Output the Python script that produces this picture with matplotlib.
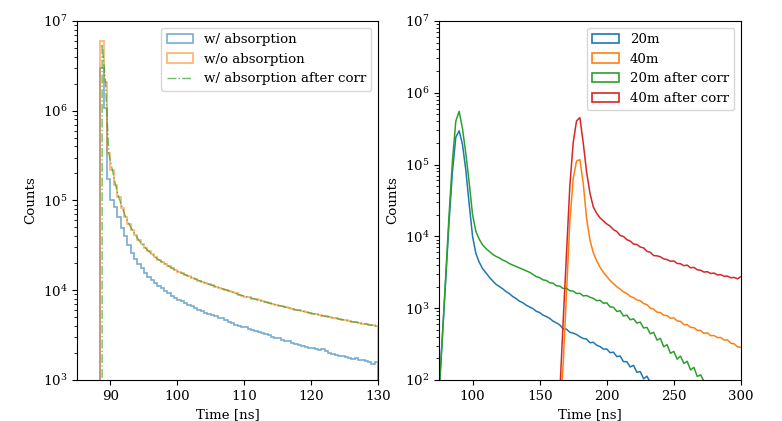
import numpy as np
import matplotlib
matplotlib.use("Agg")
import matplotlib.pyplot as plt
from matplotlib.patches import Patch

plt.rcParams['font.family'] = 'DejaVu Serif'
plt.rcParams['mathtext.fontset'] = 'dejavuserif'
plt.rcParams['font.size'] = 9.6

# ---- left panel: 0.5 ns histogram bins starting at 88.5 ns ----
left_edges = np.arange(88.5, 130.01, 0.5)
left_centers = np.arange(88.25, 130.0, 0.5)

wo_absorption = [
    5.9e6, 2.1e6, 3.4e5, 2.2e5, 1.5e5, 1.1e5, 8.3e4, 6.6e4, 5.5e4, 4.7e4,
    4.1e4, 3.6e4, 3.25e4, 2.95e4, 2.7e4, 2.5e4, 2.33e4, 2.18e4, 2.05e4, 1.94e4,
    1.84e4, 1.75e4, 1.67e4, 1.6e4, 1.54e4, 1.48e4, 1.43e4, 1.37e4, 1.32e4, 1.28e4,
    1.24e4, 1.2e4, 1.16e4, 1.13e4, 1.1e4, 1.07e4, 1.04e4, 1.01e4, 9.8e3, 9.5e3,
    9.2e3, 8.95e3, 8.7e3, 8.5e3, 8.3e3, 8.05e3, 7.9e3, 7.7e3, 7.5e3, 7.4e3,
    7.2e3, 7.05e3, 6.9e3, 6.75e3, 6.6e3, 6.5e3, 6.3e3, 6.2e3, 6.05e3, 5.95e3,
    5.8e3, 5.7e3, 5.6e3, 5.5e3, 5.4e3, 5.3e3, 5.2e3, 5.1e3, 5.0e3, 4.95e3,
    4.85e3, 4.75e3, 4.7e3, 4.6e3, 4.5e3, 4.45e3, 4.4e3, 4.3e3, 4.25e3, 4.2e3,
    4.1e3, 4.05e3, 4.0e3,
]

w_absorption = [
    3.0e6, 1.07e6, 1.75e5, 1.0e5, 8.5e4, 6.6e4, 4.9e4, 4.0e4, 3.2e4, 2.6e4,
    2.2e4, 1.95e4, 1.75e4, 1.55e4, 1.42e4, 1.3e4, 1.2e4, 1.12e4, 1.05e4, 9.8e3,
    9.2e3, 8.7e3, 8.2e3, 7.8e3, 7.5e3, 7.2e3, 6.9e3, 6.6e3, 6.3e3, 6.0e3,
    5.8e3, 5.6e3, 5.45e3, 5.3e3, 5.1e3, 4.9e3, 4.95e3, 4.6e3, 4.45e3, 4.3e3,
    4.15e3, 4.0e3, 3.9e3, 3.85e3, 3.7e3, 3.6e3, 3.5e3, 3.45e3, 3.35e3, 3.25e3,
    3.15e3, 3.05e3, 2.95e3, 2.9e3, 2.8e3, 2.72e3, 2.7e3, 2.58e3, 2.5e3, 2.45e3,
    2.4e3, 2.35e3, 2.3e3, 2.25e3, 2.2e3, 2.15e3, 2.2e3, 2.1e3, 2.0e3, 1.95e3,
    1.9e3, 1.87e3, 1.83e3, 1.8e3, 1.76e3, 1.73e3, 1.75e3, 1.68e3, 1.66e3, 1.64e3,
    1.6e3, 1.52e3, 1.6e3,
]

w_absorption_corr = [
    0, 5.5e6, 2.15e6, 3.3e5, 2.25e5, 1.5e5, 1.08e5, 8.4e4, 6.6e4, 5.5e4, 4.7e4,
    4.1e4, 3.6e4, 3.25e4, 2.95e4, 2.7e4, 2.5e4, 2.32e4, 2.18e4, 2.05e4, 1.95e4,
    1.84e4, 1.75e4, 1.67e4, 1.6e4, 1.54e4, 1.48e4, 1.42e4, 1.37e4, 1.33e4, 1.28e4,
    1.24e4, 1.2e4, 1.16e4, 1.13e4, 1.1e4, 1.07e4, 1.04e4, 1.01e4, 9.8e3, 9.5e3,
    9.2e3, 8.9e3, 8.7e3, 8.5e3, 8.3e3, 8.1e3, 7.9e3, 7.7e3, 7.55e3, 7.35e3,
    7.2e3, 7.05e3, 6.9e3, 6.75e3, 6.6e3, 6.45e3, 6.3e3, 6.2e3, 6.05e3, 5.95e3,
    5.8e3, 5.7e3, 5.6e3, 5.5e3, 5.4e3, 5.3e3, 5.2e3, 5.1e3, 5.05e3, 4.95e3,
    4.85e3, 4.75e3, 4.7e3, 4.6e3, 4.5e3, 4.45e3, 4.4e3, 4.3e3, 4.25e3, 4.2e3,
    4.1e3, 4.05e3, 3.95e3,
]

# ---- right panel: sampled every 2.5 ns ----
t_20m = np.arange(75, 235.1, 2.5)
t_20m_corr = np.arange(75, 277.6, 2.5)
t_40m = np.arange(165, 300.1, 2.5)

counts_20m = [
    63, 400, 2500, 16000, 79000, 240000, 295000, 190000, 83000, 28000,
    10000, 5750, 4350, 3550, 3100, 2700, 2400, 2150, 2000, 1860,
    1700, 1590, 1450, 1360, 1250, 1190, 1100, 1040, 985, 905,
    870, 800, 765, 720, 660, 625, 585, 515, 510, 462,
    450, 430, 400, 378, 372, 330, 335, 305, 292, 270,
    270, 240, 244, 212, 216, 180, 180, 152, 160, 128,
    131, 104, 113, 92, 95,
]

counts_20m_corr = [
    63, 400, 2800, 20000, 112000, 400000, 550000, 316000, 141000, 56000,
    20000, 11700, 9100, 7600, 6760, 6170, 5620, 5250, 5010, 4680,
    4470, 4170, 3980, 3800, 3630, 3470, 3310, 3160, 2950, 2750,
    2660, 2480, 2430, 2260, 2230, 2050, 2030, 1880, 1890, 1750,
    1730, 1600, 1610, 1480, 1500, 1420, 1370, 1270, 1290, 1170,
    1190, 1040, 1030, 900, 920, 780, 800, 690, 710, 620,
    640, 530, 540, 440, 460, 360, 380, 290, 310, 235,
    250, 195, 215, 170, 182, 138, 150, 112, 118, 96,
    92, 78,
]

counts_40m = [
    32, 160, 1600, 16000, 63000, 112000, 117000, 55000, 17800, 8900,
    5900, 4570, 3720, 3160, 2770, 2430, 2200, 1990, 1840, 1690,
    1600, 1460, 1400, 1300, 1270, 1160, 1120, 1000, 970, 880,
    870, 795, 790, 725, 735, 665, 655, 590, 590, 540,
    535, 490, 490, 445, 455, 415, 415, 390, 390, 360,
    362, 325, 318, 290, 285,
]

counts_40m_corr = [
    63, 630, 5600, 50000, 200000, 405000, 450000, 200000, 79000, 40000,
    25700, 21000, 18100, 16400, 14900, 13900, 12400, 11700, 10300, 9950,
    9000, 8600, 7800, 7700, 7100, 6900, 6200, 6000, 5400, 5350,
    5200, 4850, 4750, 4500, 4550, 4200, 4150, 3900, 3980, 3650,
    3700, 3420, 3380, 3180, 3220, 3040, 3080, 2900, 2930, 2780,
    2800, 2650, 2680, 2560, 2750,
]

fig = plt.figure(figsize=(7.82, 4.21), dpi=100)
ax1 = fig.add_axes([0.0985, 0.0974, 0.385, 0.853])
ax2 = fig.add_axes([0.5614, 0.0974, 0.386, 0.853])

# left
ax1.hist(left_edges[:-1], bins=left_edges, weights=w_absorption, histtype='step',
         color='C0', alpha=0.6, lw=1.2, label='w/ absorption')
ax1.hist(left_edges[:-1], bins=left_edges, weights=wo_absorption, histtype='step',
         color='C1', alpha=0.6, lw=1.2, label='w/o absorption')
ax1.plot(left_centers, w_absorption_corr, '-.', color='C2', alpha=0.7, lw=1,
         label='w/ absorption after corr')
ax1.set_yscale('log')
ax1.set_xlim(85, 130)
ax1.set_ylim(1e3, 1e7)
ax1.set_xlabel('Time [ns]')
ax1.set_ylabel('Counts')
ax1.legend(loc='upper right')

# right
ax2.plot(t_20m, counts_20m, color='C0', lw=1.1)
ax2.plot(t_40m, counts_40m, color='C1', lw=1.1)
ax2.plot(t_20m_corr, counts_20m_corr, color='C2', lw=1.1)
ax2.plot(t_40m, counts_40m_corr, color='C3', lw=1.1)
ax2.set_yscale('log')
ax2.set_xlim(75, 300)
ax2.set_ylim(1e2, 1e7)
ax2.set_xlabel('Time [ns]')
ax2.set_ylabel('Counts')
handles = [Patch(facecolor='none', edgecolor=c, lw=1.2, label=l)
           for c, l in zip(['C0', 'C1', 'C2', 'C3'],
                           ['20m', '40m', '20m after corr', '40m after corr'])]
ax2.legend(handles=handles, loc='upper right')

fig.savefig('out.png', dpi=100)
